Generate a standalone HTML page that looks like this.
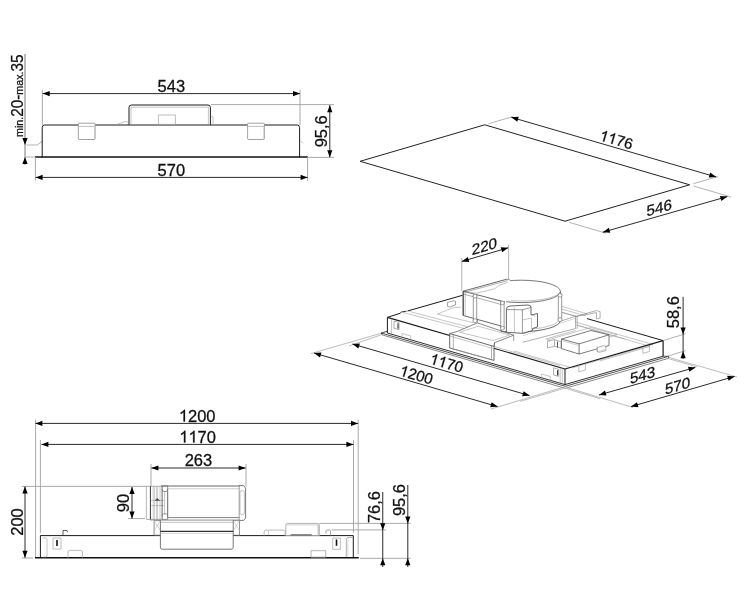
<!DOCTYPE html>
<html><head><meta charset="utf-8"><style>
html,body{margin:0;padding:0;background:#fff;}
svg{display:block;filter:grayscale(1);}
text{font-family:"Liberation Sans",sans-serif;fill:#111;}
</style></head><body>
<svg width="750" height="600" viewBox="0 0 750 600">
<rect width="750" height="600" fill="#fff"/>
<line x1="25.00" y1="54.00" x2="25.00" y2="165.00" stroke="#7a7a7a" stroke-width="1.0" />
<polygon points="25.00,145.00 22.40,138.00 27.60,138.00" fill="#000"/>
<polygon points="25.00,157.00 27.60,164.00 22.40,164.00" fill="#000"/>
<text x="23.2" y="137" font-size="16.5" stroke="#111" stroke-width="0.28" transform="rotate(-90 23.2 137)" textLength="82.5" lengthAdjust="spacingAndGlyphs"><tspan font-size="11.5">min.</tspan>20-<tspan font-size="11.5">max.</tspan>35</text>
<path d="M27,145 L37,145 L42,141.5" stroke="#a0a0a0" stroke-width="0.8" fill="none" stroke-linejoin="round" stroke-linecap="round"/>
<line x1="26.00" y1="157.00" x2="35.00" y2="157.00" stroke="#a0a0a0" stroke-width="0.8" />
<line x1="42.40" y1="89.80" x2="42.40" y2="125.00" stroke="#a0a0a0" stroke-width="0.9" />
<line x1="300.00" y1="89.80" x2="300.00" y2="125.00" stroke="#a0a0a0" stroke-width="0.9" />
<line x1="42.70" y1="93.60" x2="300.00" y2="93.60" stroke="#2a2a2a" stroke-width="1.0" />
<polygon points="42.70,93.60 49.70,91.00 49.70,96.20" fill="#000"/>
<polygon points="300.00,93.60 293.00,96.20 293.00,91.00" fill="#000"/>
<g><text x="157.54" y="91.90" font-size="16.5" stroke="#111" stroke-width="0.28">543</text></g>
<path d="M42.2,157 L42.2,127.5 Q42.2,125 44.7,125 L297.2,125 Q299.6,125 299.6,127.5 L299.6,157" stroke="#1a1a1a" stroke-width="1.0" fill="none" stroke-linejoin="round" stroke-linecap="round"/>
<line x1="35.00" y1="157.00" x2="307.80" y2="157.00" stroke="#111" stroke-width="1.5" />
<line x1="35.40" y1="157.00" x2="35.40" y2="180.50" stroke="#a0a0a0" stroke-width="0.9" />
<line x1="307.60" y1="157.00" x2="307.60" y2="181.00" stroke="#a0a0a0" stroke-width="0.9" />
<line x1="35.60" y1="177.40" x2="307.60" y2="177.40" stroke="#2a2a2a" stroke-width="1.0" />
<polygon points="35.60,177.40 42.60,174.80 42.60,180.00" fill="#000"/>
<polygon points="307.60,177.40 300.60,180.00 300.60,174.80" fill="#000"/>
<g><text x="157.54" y="176.20" font-size="16.5" stroke="#111" stroke-width="0.28">570</text></g>
<rect x="78.3" y="123.2" width="16.8" height="16.3" rx="0.8" fill="#fff" stroke="#8a8a8a" stroke-width="0.8"/>
<line x1="78.70" y1="126.40" x2="94.70" y2="126.40" stroke="#a5a5a5" stroke-width="0.7" />
<line x1="94.50" y1="127.00" x2="94.50" y2="139.00" stroke="#c8c8c8" stroke-width="0.8" />
<rect x="247.6" y="123.2" width="16.8" height="16.3" rx="0.8" fill="#fff" stroke="#8a8a8a" stroke-width="0.8"/>
<line x1="248.00" y1="126.40" x2="264.00" y2="126.40" stroke="#a5a5a5" stroke-width="0.7" />
<line x1="263.80" y1="127.00" x2="263.80" y2="139.00" stroke="#c8c8c8" stroke-width="0.8" />
<path d="M129,124.4 L129,107.5 Q129,105 131.5,105 L208,105 Q210.4,105 210.4,107.5 L210.4,124.4" stroke="#1a1a1a" stroke-width="1.0" fill="none" stroke-linejoin="round" stroke-linecap="round"/>
<line x1="131.00" y1="107.20" x2="208.40" y2="107.20" stroke="#a0a0a0" stroke-width="0.6" />
<line x1="131.00" y1="107.00" x2="131.00" y2="124.40" stroke="#a0a0a0" stroke-width="0.6" />
<line x1="208.40" y1="107.00" x2="208.40" y2="124.40" stroke="#a0a0a0" stroke-width="0.6" />
<path d="M158.40,115.00 L175.40,115.00 L175.40,124.40 L158.40,124.40 Z" stroke="#a0a0a0" stroke-width="0.7" fill="none" stroke-linejoin="round"/>
<path d="M211,116 L213,117 L213,124" stroke="#a0a0a0" stroke-width="0.6" fill="none" stroke-linejoin="round" stroke-linecap="round"/>
<path d="M117,124.5 L122,122.5 L126,121.5 L128,122" stroke="#a0a0a0" stroke-width="0.6" fill="none" stroke-linejoin="round" stroke-linecap="round"/>
<line x1="211.00" y1="104.60" x2="334.00" y2="104.60" stroke="#a0a0a0" stroke-width="0.9" />
<line x1="308.00" y1="157.40" x2="334.00" y2="157.40" stroke="#a0a0a0" stroke-width="0.9" />
<line x1="329.80" y1="105.20" x2="329.80" y2="157.20" stroke="#2a2a2a" stroke-width="1.0" />
<polygon points="329.80,105.20 332.40,112.20 327.20,112.20" fill="#000"/>
<polygon points="329.80,157.20 327.20,150.20 332.40,150.20" fill="#000"/>
<g transform="rotate(-90.00 326.60 131.30)"><text x="310.54" y="131.30" font-size="16.5" stroke="#111" stroke-width="0.28">95,6</text></g>
<path d="M300.5,141 L303,143" stroke="#a0a0a0" stroke-width="0.6" fill="none" stroke-linejoin="round" stroke-linecap="round"/>
<path d="M360.10,161.30 L484.70,124.80 L689.60,184.80 L565.00,221.20 Z" stroke="#222" stroke-width="1.0" fill="none" stroke-linejoin="round"/>
<line x1="488.50" y1="123.70" x2="513.00" y2="116.60" stroke="#a0a0a0" stroke-width="0.8" />
<line x1="693.40" y1="183.70" x2="718.00" y2="176.60" stroke="#a0a0a0" stroke-width="0.8" />
<line x1="511.30" y1="117.30" x2="716.20" y2="177.00" stroke="#2a2a2a" stroke-width="1.0" />
<polygon points="511.30,117.30 518.75,116.76 517.29,121.75" fill="#000"/>
<polygon points="716.20,177.00 708.75,177.54 710.21,172.55" fill="#000"/>
<line x1="693.50" y1="186.00" x2="731.00" y2="197.00" stroke="#a0a0a0" stroke-width="0.8" />
<line x1="569.00" y1="222.30" x2="606.00" y2="233.20" stroke="#a0a0a0" stroke-width="0.8" />
<line x1="602.80" y1="232.20" x2="727.40" y2="196.60" stroke="#2a2a2a" stroke-width="1.0" />
<polygon points="602.80,232.20 608.82,227.78 610.24,232.78" fill="#000"/>
<polygon points="727.40,196.60 721.38,201.02 719.96,196.02" fill="#000"/>
<g transform="rotate(16.24 615.00 144.80)"><path d="M763,0 L583,0 L583,1147 C540,1106 483,1064 413,1023 C343,982 280,952 223,931 L223,1105 C323,1152 411,1209 486,1276 C561,1343 614,1409 645,1466 L763,1466 Z" transform="translate(598.09 144.80) scale(0.00742 -0.00742)" fill="#111" stroke="#111" stroke-width="37.7"/><path d="M763,0 L583,0 L583,1147 C540,1106 483,1064 413,1023 C343,982 280,952 223,931 L223,1105 C323,1152 411,1209 486,1276 C561,1343 614,1409 645,1466 L763,1466 Z" transform="translate(606.55 144.80) scale(0.00742 -0.00742)" fill="#111" stroke="#111" stroke-width="37.7"/><text x="615.00" y="144.80" font-size="15.2" stroke="#111" stroke-width="0.28">76</text></g>
<g transform="translate(659.30 213.00) skewY(-15.95) translate(-659.30 -213.00)"><text x="646.62" y="213.00" font-size="15.2" stroke="#111" stroke-width="0.28">546</text></g>
<line x1="381.20" y1="333.00" x2="565.30" y2="386.30" stroke="#333" stroke-width="0.85" />
<line x1="382.20" y1="334.90" x2="565.30" y2="388.30" stroke="#555" stroke-width="0.7" />
<line x1="565.30" y1="386.30" x2="668.60" y2="356.30" stroke="#333" stroke-width="0.85" />
<line x1="565.30" y1="388.30" x2="668.60" y2="358.30" stroke="#555" stroke-width="0.7" />
<line x1="381.20" y1="333.00" x2="382.20" y2="334.90" stroke="#1a1a1a" stroke-width="0.8" />
<line x1="381.20" y1="333.00" x2="387.40" y2="331.30" stroke="#1a1a1a" stroke-width="0.8" />
<line x1="668.60" y1="356.30" x2="668.60" y2="358.30" stroke="#1a1a1a" stroke-width="0.8" />
<line x1="663.10" y1="356.20" x2="668.60" y2="356.30" stroke="#1a1a1a" stroke-width="0.7" />
<path d="M387.40,317.40 L565.00,369.00 L663.10,340.60 L485.50,289.00 Z" fill="#fff" stroke="none"/>
<path d="M387.40,317.40 L565.00,369.00 L565.00,384.60 L387.40,333.00 Z" fill="#fff" stroke="none"/>
<path d="M565.00,369.00 L663.10,340.60 L663.10,356.20 L565.00,384.60 Z" fill="#fff" stroke="none"/>
<line x1="403.20" y1="312.50" x2="474.00" y2="331.10" stroke="#a0a0a0" stroke-width="0.6" />
<line x1="409.60" y1="311.50" x2="474.00" y2="328.50" stroke="#a0a0a0" stroke-width="0.6" />
<line x1="437.30" y1="314.00" x2="473.30" y2="322.70" stroke="#a0a0a0" stroke-width="0.6" />
<line x1="437.30" y1="314.00" x2="453.30" y2="307.70" stroke="#a0a0a0" stroke-width="0.6" />
<line x1="453.30" y1="307.70" x2="461.00" y2="307.20" stroke="#a0a0a0" stroke-width="0.6" />
<path d="M447.50,306.50 L447.50,302.50 L453.50,300.80 L455.50,301.20 L455.50,305.00 L449.50,307.00 L447.50,306.50" stroke="#7a7a7a" stroke-width="0.7" fill="#fff" stroke-linejoin="round"/>
<line x1="576.70" y1="322.40" x2="653.00" y2="344.50" stroke="#a0a0a0" stroke-width="0.6" />
<line x1="576.70" y1="325.00" x2="650.00" y2="346.40" stroke="#a0a0a0" stroke-width="0.6" />
<line x1="653.00" y1="344.50" x2="572.00" y2="368.00" stroke="#a0a0a0" stroke-width="0.6" />
<line x1="650.00" y1="346.40" x2="600.00" y2="360.90" stroke="#a0a0a0" stroke-width="0.6" />
<line x1="514.00" y1="351.00" x2="570.00" y2="367.30" stroke="#a0a0a0" stroke-width="0.6" />
<line x1="494.00" y1="346.50" x2="560.00" y2="365.70" stroke="#a0a0a0" stroke-width="0.6" />
<line x1="561.70" y1="306.40" x2="587.30" y2="313.90" stroke="#a0a0a0" stroke-width="0.6" />
<line x1="561.70" y1="309.00" x2="586.30" y2="316.00" stroke="#a0a0a0" stroke-width="0.6" />
<path d="M575.60,323.00 L575.60,316.50 L596.40,310.60 L600.10,311.60 L600.10,318.00 L596.40,319.00 L596.40,312.60" stroke="#7a7a7a" stroke-width="0.6" fill="none" stroke-linejoin="round"/>
<line x1="575.60" y1="316.50" x2="596.40" y2="312.60" stroke="#7a7a7a" stroke-width="0.6" />
<line x1="575.60" y1="323.00" x2="545.00" y2="331.80" stroke="#a0a0a0" stroke-width="0.6" />
<line x1="575.60" y1="330.40" x2="545.00" y2="339.20" stroke="#a0a0a0" stroke-width="0.6" />
<line x1="577.00" y1="325.20" x2="625.00" y2="339.10" stroke="#a0a0a0" stroke-width="0.6" />
<path d="M547.00,340.00 L591.00,327.50 L617.00,334.80 L573.00,347.50 L547.00,340.00" stroke="#a0a0a0" stroke-width="0.6" fill="none" stroke-linejoin="round"/>
<path d="M561.50,339.10 L590.90,330.50 L609.00,334.80 L609.00,345.50 L579.10,354.00 L561.50,348.70 Z" fill="#fff" stroke="none"/>
<path d="M561.50,339.10 L590.90,330.50 L609.00,334.80 L579.10,343.90 L561.50,339.10" stroke="#444" stroke-width="0.7" fill="none" stroke-linejoin="round"/>
<path d="M561.50,339.10 L561.50,348.70 L579.10,354.00 L609.00,345.50 L609.00,334.80" stroke="#444" stroke-width="0.7" fill="none" stroke-linejoin="round"/>
<line x1="579.10" y1="343.90" x2="579.10" y2="354.00" stroke="#444" stroke-width="0.7" />
<line x1="562.50" y1="340.80" x2="578.50" y2="345.50" stroke="#a0a0a0" stroke-width="0.5" />
<path d="M597.30,347.50 L603.50,345.70 L605.80,346.30 L605.80,350.50 L599.60,352.30 L597.30,351.70 L597.30,347.50" stroke="#7a7a7a" stroke-width="0.6" fill="#fff" stroke-linejoin="round"/>
<path d="M547.50,341.50 L554.00,339.60 L561.00,341.60 L561.00,348.10 L554.50,346.20 L547.50,348.00 L547.50,341.50" stroke="#7a7a7a" stroke-width="0.6" fill="#fff" stroke-linejoin="round"/>
<line x1="554.50" y1="339.80" x2="554.50" y2="346.20" stroke="#7a7a7a" stroke-width="0.6" />
<line x1="557.50" y1="341.50" x2="557.50" y2="347.50" stroke="#333" stroke-width="0.8" />
<path d="M597.00,346.00 L597.00,351.80 L605.60,349.40" stroke="#a0a0a0" stroke-width="0.5" fill="none" stroke-linejoin="round"/>
<line x1="387.40" y1="317.40" x2="565.00" y2="369.00" stroke="#1a1a1a" stroke-width="1.1" />
<line x1="565.00" y1="369.00" x2="663.10" y2="340.60" stroke="#1a1a1a" stroke-width="1.1" />
<line x1="387.40" y1="317.40" x2="387.40" y2="333.00" stroke="#1a1a1a" stroke-width="1.0" />
<line x1="387.40" y1="333.00" x2="565.00" y2="384.60" stroke="#1a1a1a" stroke-width="0.9" />
<line x1="565.00" y1="369.00" x2="565.00" y2="384.60" stroke="#1a1a1a" stroke-width="1.0" />
<line x1="565.00" y1="384.60" x2="663.10" y2="356.20" stroke="#1a1a1a" stroke-width="0.9" />
<line x1="663.10" y1="340.60" x2="663.10" y2="356.20" stroke="#1a1a1a" stroke-width="1.2" />
<line x1="387.40" y1="317.40" x2="400.00" y2="313.30" stroke="#1a1a1a" stroke-width="1.0" />
<line x1="400.00" y1="313.30" x2="401.50" y2="312.00" stroke="#1a1a1a" stroke-width="0.9" />
<line x1="401.50" y1="312.00" x2="406.50" y2="311.20" stroke="#1a1a1a" stroke-width="0.9" />
<line x1="407.50" y1="311.00" x2="462.50" y2="295.30" stroke="#1a1a1a" stroke-width="1.0" />
<line x1="587.00" y1="318.60" x2="663.10" y2="340.60" stroke="#1a1a1a" stroke-width="1.0" />
<line x1="391.50" y1="318.60" x2="391.50" y2="334.10" stroke="#a0a0a0" stroke-width="0.6" />
<line x1="560.20" y1="368.00" x2="560.20" y2="383.20" stroke="#a0a0a0" stroke-width="0.6" />
<line x1="562.30" y1="368.50" x2="562.30" y2="383.80" stroke="#a0a0a0" stroke-width="0.6" />
<path d="M394.00,321.00 L399.00,322.45 L399.00,329.60 L394.00,328.20 L394.00,321.00" stroke="#7a7a7a" stroke-width="0.6" fill="#fff" stroke-linejoin="round"/>
<line x1="398.00" y1="323.40" x2="398.00" y2="328.60" stroke="#222" stroke-width="1.0" />
<path d="M553.60,367.80 L558.60,369.25 L558.60,376.40 L553.60,375.00 L553.60,367.80" stroke="#7a7a7a" stroke-width="0.6" fill="#fff" stroke-linejoin="round"/>
<line x1="557.60" y1="370.20" x2="557.60" y2="375.40" stroke="#222" stroke-width="1.0" />
<path d="M402.00,338.40 L402.00,333.40 L410.70,335.90 L410.70,340.90" stroke="#a0a0a0" stroke-width="0.6" fill="none" stroke-linejoin="round"/>
<path d="M541.60,379.00 L541.60,374.00 L550.30,376.50 L550.30,381.50" stroke="#a0a0a0" stroke-width="0.6" fill="none" stroke-linejoin="round"/>
<path d="M578.80,365.40 L578.80,371.90 L585.40,370.00 L585.40,363.50" stroke="#a0a0a0" stroke-width="0.7" fill="none" stroke-linejoin="round"/>
<path d="M642.80,346.90 L642.80,353.40 L649.40,351.50 L649.40,345.00" stroke="#a0a0a0" stroke-width="0.7" fill="none" stroke-linejoin="round"/>
<path d="M449.70,333.60 L457.10,331.50 L477.40,322.90 L513.70,335.20 L494.50,342.70 L494.00,346.40 L494.00,360.40 L449.70,348.00 Z" fill="#fff" stroke="none"/>
<path d="M449.70,333.60 L494.00,346.40 L494.00,360.40 L449.70,348.00 L449.70,333.60" stroke="#444" stroke-width="0.8" fill="none" stroke-linejoin="round"/>
<line x1="453.30" y1="334.60" x2="453.30" y2="349.00" stroke="#7a7a7a" stroke-width="0.6" />
<line x1="491.50" y1="345.70" x2="491.50" y2="359.70" stroke="#7a7a7a" stroke-width="0.6" />
<line x1="449.70" y1="336.00" x2="494.00" y2="348.80" stroke="#a0a0a0" stroke-width="0.6" />
<path d="M449.70,333.60 L457.10,331.50 L477.40,322.90 L513.70,335.20 L494.50,342.70 L494.00,346.40" stroke="#555" stroke-width="0.7" fill="none" stroke-linejoin="round"/>
<path d="M459.50,332.20 L478.50,326.20 L509.50,335.10 L493.00,340.50 L459.50,332.20" stroke="#a0a0a0" stroke-width="0.6" fill="none" stroke-linejoin="round"/>
<line x1="494.50" y1="342.70" x2="494.50" y2="346.40" stroke="#555" stroke-width="0.6" />
<line x1="513.70" y1="335.20" x2="513.70" y2="341.00" stroke="#555" stroke-width="0.6" />
<line x1="477.40" y1="322.90" x2="477.40" y2="319.50" stroke="#666" stroke-width="0.6" />
<line x1="455.50" y1="349.50" x2="490.00" y2="359.30" stroke="#a0a0a0" stroke-width="0.6" />
<path d="M522.80,333.80 L575.60,316.20 L575.60,328.50 L522.80,342.30" stroke="#777" stroke-width="0.6" fill="#fff" stroke-linejoin="round"/>
<line x1="577.20" y1="316.60" x2="577.20" y2="328.90" stroke="#888" stroke-width="0.6" />
<line x1="522.80" y1="335.80" x2="575.60" y2="318.20" stroke="#aaa" stroke-width="0.5" />
<line x1="562.30" y1="312.50" x2="575.60" y2="316.20" stroke="#888" stroke-width="0.6" />
<line x1="577.20" y1="316.60" x2="562.00" y2="312.30" stroke="#888" stroke-width="0.5" />
<path d="M560.40,291.40 L560.40,320.40 A39.2,11.2 0 0 1 521.20,331.60 L501.20,331.60 L501.20,291.40 Z" stroke="#444" stroke-width="0.8" fill="#fff"/>
<path d="M559.60,318.60 A39.2,11.2 0 0 1 531.20,329.20" stroke="#999" stroke-width="0.6" fill="none"/>
<path d="M463.20,291.20 L502.50,302.20 L502.50,326.40 L463.20,315.50 Z" fill="#fff" stroke="none"/>
<path d="M463.20,291.20 L463.20,315.50 L502.50,326.40" stroke="#444" stroke-width="0.8" fill="none" stroke-linejoin="round"/>
<line x1="465.20" y1="292.30" x2="465.20" y2="316.00" stroke="#a0a0a0" stroke-width="0.6" />
<line x1="464.00" y1="294.20" x2="502.50" y2="304.90" stroke="#777" stroke-width="0.6" />
<ellipse cx="521.2" cy="291.4" rx="39.2" ry="11.2" stroke="#555" stroke-width="0.8" fill="#fff"/>
<path d="M511.20,300.70 A39.2,10.0 0 0 0 559.80,292.60" stroke="#999" stroke-width="0.6" fill="none"/>
<path d="M463.2,291.2 L506.8,279.2 Q509.5,278.8 510.8,281.0 L506.0,302.0 L502.5,302.2 Z" stroke="none" fill="#fff"/>
<line x1="463.20" y1="291.20" x2="506.80" y2="279.20" stroke="#444" stroke-width="0.8" />
<path d="M506.8,279.2 Q509.5,278.8 510.8,281.0" stroke="#666" stroke-width="0.7" fill="none"/>
<line x1="464.50" y1="292.30" x2="507.50" y2="280.60" stroke="#777" stroke-width="0.6" />
<line x1="463.20" y1="291.20" x2="505.00" y2="302.00" stroke="#444" stroke-width="0.8" />
<path d="M466.0,292.0 L476.4,293.2 L494.8,288.8 Q497.5,286.0 499.6,285.2 L507.5,282.3" stroke="#999" stroke-width="0.6" fill="none"/>
<path d="M473.30,294.40 L476.70,294.40 L476.70,321.30 L473.30,321.30 Z" fill="#fff" stroke="none"/>
<line x1="473.30" y1="294.40" x2="473.30" y2="321.30" stroke="#555" stroke-width="0.6" />
<line x1="476.70" y1="294.40" x2="476.70" y2="321.30" stroke="#555" stroke-width="0.6" />
<circle cx="475.00" cy="296.20" r="1.9" stroke="#666" stroke-width="0.6" fill="#fff"/>
<circle cx="475.00" cy="320.70" r="2.0" stroke="#666" stroke-width="0.6" fill="#fff"/>
<path d="M500.70,301.20 L504.10,301.20 L504.10,328.80 L500.70,328.80 Z" fill="#fff" stroke="none"/>
<line x1="500.70" y1="301.20" x2="500.70" y2="328.80" stroke="#555" stroke-width="0.6" />
<line x1="504.10" y1="301.20" x2="504.10" y2="328.80" stroke="#555" stroke-width="0.6" />
<circle cx="502.40" cy="303.00" r="1.9" stroke="#666" stroke-width="0.6" fill="#fff"/>
<circle cx="502.40" cy="328.20" r="2.0" stroke="#666" stroke-width="0.6" fill="#fff"/>
<path d="M558.30,293.50 L561.70,293.50 L561.70,320.30 L558.30,320.30 Z" fill="#fff" stroke="none"/>
<line x1="558.30" y1="293.50" x2="558.30" y2="320.30" stroke="#555" stroke-width="0.6" />
<line x1="561.70" y1="293.50" x2="561.70" y2="320.30" stroke="#555" stroke-width="0.6" />
<circle cx="560.00" cy="295.30" r="1.9" stroke="#666" stroke-width="0.6" fill="#fff"/>
<circle cx="560.00" cy="319.70" r="2.0" stroke="#666" stroke-width="0.6" fill="#fff"/>
<line x1="463.20" y1="291.20" x2="463.20" y2="315.50" stroke="#333" stroke-width="0.8" />
<path d="M506.4,332.3 L506.4,309.5 Q506.4,306.2 510.0,306.0 L528.0,305.0 Q531.0,305.0 531.0,307.5 L531.0,315.0 L537.5,313.5 L537.5,327.0 L532.5,328.5 L532.5,330.5 L522.4,333.3 Z" stroke="#444" stroke-width="0.8" fill="#fff"/>
<line x1="514.40" y1="307.50" x2="514.40" y2="332.80" stroke="#a0a0a0" stroke-width="0.6" />
<line x1="522.40" y1="309.50" x2="522.40" y2="333.30" stroke="#555" stroke-width="0.6" />
<line x1="506.40" y1="309.50" x2="522.40" y2="309.80" stroke="#555" stroke-width="0.6" />
<line x1="522.40" y1="309.80" x2="531.00" y2="307.50" stroke="#555" stroke-width="0.6" />
<line x1="531.00" y1="315.00" x2="535.00" y2="316.00" stroke="#a0a0a0" stroke-width="0.6" />
<line x1="522.40" y1="320.00" x2="531.50" y2="318.00" stroke="#a0a0a0" stroke-width="0.6" />
<line x1="531.50" y1="318.00" x2="531.50" y2="329.00" stroke="#a0a0a0" stroke-width="0.6" />
<line x1="461.80" y1="258.00" x2="461.80" y2="291.00" stroke="#a0a0a0" stroke-width="0.8" />
<line x1="508.60" y1="244.60" x2="508.60" y2="280.00" stroke="#a0a0a0" stroke-width="0.8" />
<line x1="461.80" y1="261.40" x2="508.20" y2="247.80" stroke="#2a2a2a" stroke-width="1.0" />
<polygon points="461.80,261.40 467.79,256.94 469.25,261.93" fill="#000"/>
<polygon points="508.20,247.80 502.21,252.26 500.75,247.27" fill="#000"/>
<g transform="translate(484.40 251.60) skewY(-16.34) translate(-484.40 -251.60)"><text x="471.72" y="251.60" font-size="15.2" stroke="#111" stroke-width="0.28">220</text></g>
<line x1="311.00" y1="353.60" x2="381.30" y2="333.20" stroke="#a0a0a0" stroke-width="0.7" />
<line x1="349.00" y1="345.90" x2="381.80" y2="334.60" stroke="#a0a0a0" stroke-width="0.7" />
<line x1="491.00" y1="409.00" x2="563.50" y2="387.20" stroke="#a0a0a0" stroke-width="0.7" />
<line x1="520.00" y1="401.40" x2="563.50" y2="388.50" stroke="#a0a0a0" stroke-width="0.7" />
<line x1="314.00" y1="353.00" x2="497.60" y2="406.60" stroke="#2a2a2a" stroke-width="1.0" />
<polygon points="314.00,353.00 321.45,352.47 319.99,357.46" fill="#000"/>
<polygon points="497.60,406.60 490.15,407.13 491.61,402.14" fill="#000"/>
<line x1="352.40" y1="344.00" x2="529.60" y2="395.60" stroke="#2a2a2a" stroke-width="1.0" />
<polygon points="352.40,344.00 359.85,343.46 358.39,348.45" fill="#000"/>
<polygon points="529.60,395.60 522.15,396.14 523.61,391.15" fill="#000"/>
<g transform="rotate(16.30 445.20 368.20)"><path d="M763,0 L583,0 L583,1147 C540,1106 483,1064 413,1023 C343,982 280,952 223,931 L223,1105 C323,1152 411,1209 486,1276 C561,1343 614,1409 645,1466 L763,1466 Z" transform="translate(428.29 368.20) scale(0.00742 -0.00742)" fill="#111" stroke="#111" stroke-width="37.7"/><path d="M763,0 L583,0 L583,1147 C540,1106 483,1064 413,1023 C343,982 280,952 223,931 L223,1105 C323,1152 411,1209 486,1276 C561,1343 614,1409 645,1466 L763,1466 Z" transform="translate(436.75 368.20) scale(0.00742 -0.00742)" fill="#111" stroke="#111" stroke-width="37.7"/><text x="445.20" y="368.20" font-size="15.2" stroke="#111" stroke-width="0.28">70</text></g>
<g transform="rotate(16.30 415.00 380.00)"><path d="M763,0 L583,0 L583,1147 C540,1106 483,1064 413,1023 C343,982 280,952 223,931 L223,1105 C323,1152 411,1209 486,1276 C561,1343 614,1409 645,1466 L763,1466 Z" transform="translate(398.09 380.00) scale(0.00742 -0.00742)" fill="#111" stroke="#111" stroke-width="37.7"/><text x="406.55" y="380.00" font-size="15.2" stroke="#111" stroke-width="0.28">200</text></g>
<line x1="567.00" y1="387.50" x2="633.00" y2="407.50" stroke="#a0a0a0" stroke-width="0.7" />
<line x1="567.00" y1="388.80" x2="600.00" y2="398.70" stroke="#a0a0a0" stroke-width="0.7" />
<line x1="668.80" y1="357.40" x2="737.00" y2="377.00" stroke="#a0a0a0" stroke-width="0.7" />
<line x1="668.80" y1="358.70" x2="697.00" y2="366.90" stroke="#a0a0a0" stroke-width="0.7" />
<line x1="599.00" y1="395.00" x2="695.40" y2="367.40" stroke="#2a2a2a" stroke-width="1.0" />
<polygon points="599.00,395.00 605.01,390.57 606.45,395.57" fill="#000"/>
<polygon points="695.40,367.40 689.39,371.83 687.95,366.83" fill="#000"/>
<line x1="631.00" y1="406.60" x2="734.60" y2="376.40" stroke="#2a2a2a" stroke-width="1.0" />
<polygon points="631.00,406.60 636.99,402.14 638.45,407.14" fill="#000"/>
<polygon points="734.60,376.40 728.61,380.86 727.15,375.86" fill="#000"/>
<g transform="translate(642.60 380.30) skewY(-16.00) translate(-642.60 -380.30)"><text x="629.92" y="380.30" font-size="15.2" stroke="#111" stroke-width="0.28">543</text></g>
<g transform="translate(677.60 391.00) skewY(-16.00) translate(-677.60 -391.00)"><text x="664.92" y="391.00" font-size="15.2" stroke="#111" stroke-width="0.28">570</text></g>
<line x1="663.10" y1="340.60" x2="685.60" y2="333.75" stroke="#a0a0a0" stroke-width="0.8" />
<line x1="667.50" y1="356.25" x2="685.60" y2="350.60" stroke="#a0a0a0" stroke-width="0.8" />
<line x1="683.10" y1="296.90" x2="683.10" y2="358.75" stroke="#2a2a2a" stroke-width="1.0" />
<polygon points="683.10,334.40 680.50,327.40 685.70,327.40" fill="#000"/>
<polygon points="683.10,351.25 685.70,358.25 680.50,358.25" fill="#000"/>
<g transform="rotate(-90.00 679.50 312.20)"><text x="663.44" y="312.20" font-size="16.5" stroke="#111" stroke-width="0.28">58,6</text></g>
<line x1="35.60" y1="419.50" x2="35.60" y2="557.40" stroke="#a0a0a0" stroke-width="0.9" />
<line x1="358.20" y1="419.50" x2="358.20" y2="554.00" stroke="#a0a0a0" stroke-width="0.9" />
<line x1="35.40" y1="423.40" x2="358.00" y2="423.40" stroke="#2a2a2a" stroke-width="1.0" />
<polygon points="35.40,423.40 42.40,420.80 42.40,426.00" fill="#000"/>
<polygon points="358.00,423.40 351.00,426.00 351.00,420.80" fill="#000"/>
<g><path d="M763,0 L583,0 L583,1147 C540,1106 483,1064 413,1023 C343,982 280,952 223,931 L223,1105 C323,1152 411,1209 486,1276 C561,1343 614,1409 645,1466 L763,1466 Z" transform="translate(178.85 421.50) scale(0.00806 -0.00806)" fill="#111" stroke="#111" stroke-width="34.8"/><text x="188.02" y="421.50" font-size="16.5" stroke="#111" stroke-width="0.28">200</text></g>
<line x1="40.40" y1="440.00" x2="40.40" y2="533.00" stroke="#a0a0a0" stroke-width="0.9" />
<line x1="353.50" y1="440.00" x2="353.50" y2="532.50" stroke="#a0a0a0" stroke-width="0.9" />
<line x1="41.40" y1="444.40" x2="353.40" y2="444.40" stroke="#2a2a2a" stroke-width="1.0" />
<polygon points="41.40,444.40 48.40,441.80 48.40,447.00" fill="#000"/>
<polygon points="353.40,444.40 346.40,447.00 346.40,441.80" fill="#000"/>
<g><path d="M763,0 L583,0 L583,1147 C540,1106 483,1064 413,1023 C343,982 280,952 223,931 L223,1105 C323,1152 411,1209 486,1276 C561,1343 614,1409 645,1466 L763,1466 Z" transform="translate(179.25 442.50) scale(0.00806 -0.00806)" fill="#111" stroke="#111" stroke-width="34.8"/><path d="M763,0 L583,0 L583,1147 C540,1106 483,1064 413,1023 C343,982 280,952 223,931 L223,1105 C323,1152 411,1209 486,1276 C561,1343 614,1409 645,1466 L763,1466 Z" transform="translate(188.42 442.50) scale(0.00806 -0.00806)" fill="#111" stroke="#111" stroke-width="34.8"/><text x="197.60" y="442.50" font-size="16.5" stroke="#111" stroke-width="0.28">70</text></g>
<line x1="151.00" y1="464.00" x2="151.00" y2="486.00" stroke="#a0a0a0" stroke-width="0.9" />
<line x1="246.00" y1="464.00" x2="246.00" y2="487.00" stroke="#a0a0a0" stroke-width="0.9" />
<line x1="151.40" y1="468.00" x2="245.60" y2="468.00" stroke="#2a2a2a" stroke-width="1.0" />
<polygon points="151.40,468.00 158.40,465.40 158.40,470.60" fill="#000"/>
<polygon points="245.60,468.00 238.60,470.60 238.60,465.40" fill="#000"/>
<g><text x="184.64" y="466.40" font-size="16.5" stroke="#111" stroke-width="0.28">263</text></g>
<line x1="21.60" y1="486.40" x2="147.00" y2="486.40" stroke="#a0a0a0" stroke-width="0.9" />
<line x1="21.60" y1="558.00" x2="33.00" y2="558.00" stroke="#a0a0a0" stroke-width="0.9" />
<line x1="25.00" y1="486.60" x2="25.00" y2="557.80" stroke="#2a2a2a" stroke-width="1.0" />
<polygon points="25.00,486.60 27.60,493.60 22.40,493.60" fill="#000"/>
<polygon points="25.00,557.80 22.40,550.80 27.60,550.80" fill="#000"/>
<g transform="rotate(-90.00 23.00 522.00)"><text x="9.24" y="522.00" font-size="16.5" stroke="#111" stroke-width="0.28">200</text></g>
<line x1="128.00" y1="518.60" x2="145.00" y2="518.60" stroke="#a0a0a0" stroke-width="0.9" />
<line x1="132.00" y1="487.00" x2="132.00" y2="518.60" stroke="#2a2a2a" stroke-width="1.0" />
<polygon points="132.00,487.00 134.60,494.00 129.40,494.00" fill="#000"/>
<polygon points="132.00,518.60 129.40,511.60 134.60,511.60" fill="#000"/>
<g transform="rotate(-90.00 129.00 503.00)"><text x="119.82" y="503.00" font-size="16.5" stroke="#111" stroke-width="0.28">90</text></g>
<path d="M40.4,557.6 L40.4,535.6 L353.3,535.6 L353.3,557.6" stroke="#1a1a1a" stroke-width="1.0" fill="none" stroke-linejoin="round" stroke-linecap="round"/>
<line x1="35.00" y1="557.70" x2="358.70" y2="557.70" stroke="#111" stroke-width="1.5" />
<path d="M63,535 L63,530.5 L67,530.5 L67.5,532" stroke="#1a1a1a" stroke-width="0.7" fill="none" stroke-linejoin="round" stroke-linecap="round"/>
<path d="M53.00,538.00 L61.00,538.00 L61.00,549.00 L53.00,549.00 Z" stroke="#a0a0a0" stroke-width="0.7" fill="none" stroke-linejoin="round"/>
<line x1="57.00" y1="540.00" x2="57.00" y2="546.00" stroke="#111" stroke-width="1.6" />
<path d="M68,557.4 L68,552 Q68,550.4 69.6,550.4 L80.8,550.4 Q82.4,550.4 82.4,552 L82.4,557.4" stroke="#a0a0a0" stroke-width="0.7" fill="none" stroke-linejoin="round" stroke-linecap="round"/>
<path d="M43,538 L45.5,538 Q47,538 47,540 L47,555 Q47,557 45.5,557 L43,557" stroke="#a0a0a0" stroke-width="0.6" fill="none" stroke-linejoin="round" stroke-linecap="round"/>
<rect x="146.4" y="486" width="99.2" height="34" fill="#fff"/>
<line x1="146.40" y1="486.30" x2="146.40" y2="519.40" stroke="#999" stroke-width="0.7" />
<line x1="146.40" y1="486.30" x2="161.00" y2="486.30" stroke="#888" stroke-width="0.7" />
<line x1="146.40" y1="519.40" x2="161.00" y2="519.40" stroke="#888" stroke-width="0.7" />
<line x1="150.40" y1="486.30" x2="150.40" y2="519.40" stroke="#333" stroke-width="1.0" />
<line x1="153.20" y1="486.50" x2="153.20" y2="519.20" stroke="#aaa" stroke-width="0.6" />
<line x1="154.40" y1="486.50" x2="154.40" y2="519.20" stroke="#aaa" stroke-width="0.6" />
<line x1="156.40" y1="486.50" x2="156.40" y2="519.20" stroke="#aaa" stroke-width="0.6" />
<line x1="157.60" y1="486.50" x2="157.60" y2="519.20" stroke="#aaa" stroke-width="0.6" />
<line x1="160.00" y1="486.50" x2="160.00" y2="519.20" stroke="#aaa" stroke-width="0.6" />
<line x1="151.20" y1="500.40" x2="164.00" y2="500.40" stroke="#999" stroke-width="0.6" />
<line x1="151.20" y1="505.60" x2="164.00" y2="505.60" stroke="#999" stroke-width="0.6" />
<path d="M155.3,500.3 L157.3,498.4 L159.3,500.3 Z" stroke="#444" stroke-width="0.6" fill="#444" stroke-linejoin="round" stroke-linecap="round"/>
<line x1="162.10" y1="486.00" x2="162.10" y2="519.60" stroke="#555" stroke-width="0.9" />
<path d="M162.1,485.9 L167.7,485.9 L167.7,490.0 Q167.7,491.5 165.9,491.5 L163.9,491.5 Q162.1,491.5 162.1,490.0" stroke="#666" stroke-width="0.7" fill="none" stroke-linejoin="round" stroke-linecap="round"/>
<path d="M162.1,519.4 L167.7,519.4 L167.7,515.3 Q167.7,513.8 165.9,513.8 L163.9,513.8 Q162.1,513.8 162.1,515.3" stroke="#666" stroke-width="0.7" fill="none" stroke-linejoin="round" stroke-linecap="round"/>
<line x1="164.60" y1="491.50" x2="164.60" y2="513.80" stroke="#999" stroke-width="0.6" />
<line x1="167.70" y1="491.50" x2="167.70" y2="513.80" stroke="#777" stroke-width="0.7" />
<line x1="161.00" y1="486.00" x2="239.40" y2="486.00" stroke="#666" stroke-width="1.1" />
<line x1="167.60" y1="488.80" x2="239.40" y2="488.80" stroke="#aaa" stroke-width="0.6" />
<line x1="167.60" y1="517.60" x2="239.40" y2="517.60" stroke="#777" stroke-width="0.9" />
<line x1="150.00" y1="520.00" x2="239.40" y2="520.00" stroke="#888" stroke-width="0.8" />
<line x1="167.60" y1="488.50" x2="167.60" y2="517.50" stroke="#666" stroke-width="0.7" />
<path d="M239.2,485.6 L243.6,485.6 L245.6,488.2 L245.6,518.2 L243.6,520.4 L239.2,520.4" stroke="#555" stroke-width="0.8" fill="none" stroke-linejoin="round" stroke-linecap="round"/>
<line x1="239.20" y1="485.60" x2="239.20" y2="520.40" stroke="#777" stroke-width="0.7" />
<path d="M240.0,492.0 Q240.0,490.8 241.2,490.8 L243.2,490.8 Q244.4,490.8 244.4,492.0 L244.4,513.2 Q244.4,514.4 243.2,514.4 L241.2,514.4 Q240.0,514.4 240.0,513.2 Z" stroke="#999" stroke-width="0.6" fill="none" stroke-linejoin="round" stroke-linecap="round"/>
<path d="M154.10,520.60 L239.50,520.60 L239.50,535.40 L154.10,535.40 Z" stroke="#777" stroke-width="0.8" fill="#fff" stroke-linejoin="round"/>
<line x1="154.10" y1="535.40" x2="239.50" y2="535.40" stroke="#444" stroke-width="0.9" />
<line x1="154.10" y1="520.60" x2="160.40" y2="530.60" stroke="#aaa" stroke-width="0.5" />
<line x1="154.10" y1="530.60" x2="160.40" y2="520.60" stroke="#aaa" stroke-width="0.5" />
<line x1="233.20" y1="520.60" x2="239.50" y2="530.60" stroke="#aaa" stroke-width="0.5" />
<line x1="233.20" y1="530.60" x2="239.50" y2="520.60" stroke="#aaa" stroke-width="0.5" />
<rect x="160.4" y="520.6" width="72.8" height="28.6" fill="#fff"/>
<path d="M160.4,520.6 L160.4,547.2 Q160.4,549.2 162.4,549.2 L231.2,549.2 Q233.2,549.2 233.2,547.2 L233.2,520.6" stroke="#555" stroke-width="0.8" fill="none" stroke-linejoin="round" stroke-linecap="round"/>
<line x1="160.40" y1="522.30" x2="233.20" y2="522.30" stroke="#999" stroke-width="0.6" />
<line x1="160.40" y1="531.40" x2="233.20" y2="531.40" stroke="#333" stroke-width="1.4" />
<line x1="160.40" y1="533.30" x2="233.20" y2="533.30" stroke="#aaa" stroke-width="0.5" />
<path d="M264.1,535.4 L264.1,532.0 Q264.1,530.1 266.0,530.1 L283.2,530.1 Q285.1,530.1 285.1,532.0 L285.1,535.4" stroke="#a0a0a0" stroke-width="0.7" fill="none" stroke-linejoin="round" stroke-linecap="round"/>
<line x1="268.30" y1="530.60" x2="268.30" y2="535.20" stroke="#a0a0a0" stroke-width="0.6" />
<path d="M285.8,535.4 L285.8,525.4 Q285.8,523.4 287.8,523.4 L317.4,523.4 Q319.4,523.4 319.4,525.4 L319.4,535.4" stroke="#a0a0a0" stroke-width="0.8" fill="#fff" stroke-linejoin="round" stroke-linecap="round"/>
<line x1="286.50" y1="524.90" x2="318.70" y2="524.90" stroke="#a0a0a0" stroke-width="0.5" />
<line x1="318.30" y1="524.50" x2="318.30" y2="535.20" stroke="#c8c8c8" stroke-width="1.6" />
<line x1="290.70" y1="534.80" x2="311.70" y2="534.80" stroke="#333" stroke-width="0.8" />
<path d="M325.9,533.0 L325.9,531.3 Q325.9,530.0 327.2,530.0 L329.3,530.0 Q330.6,530.0 330.6,531.3 L330.6,535.4" stroke="#7a7a7a" stroke-width="0.7" fill="none" stroke-linejoin="round" stroke-linecap="round"/>
<path d="M332.70,538.10 L340.40,538.10 L340.40,549.30 L332.70,549.30 Z" stroke="#a0a0a0" stroke-width="0.7" fill="none" stroke-linejoin="round"/>
<line x1="336.50" y1="539.50" x2="336.50" y2="545.80" stroke="#111" stroke-width="1.6" />
<path d="M346.3,556.6 L346.3,540.0 Q346.3,537.4 349.0,537.4 L352.6,537.4" stroke="#a0a0a0" stroke-width="0.8" fill="none" stroke-linejoin="round" stroke-linecap="round"/>
<line x1="347.80" y1="540.00" x2="347.80" y2="556.50" stroke="#d0d0d0" stroke-width="0.8" />
<path d="M311.00,550.70 L325.70,550.70 L325.70,557.20 L311.00,557.20 Z" stroke="#a0a0a0" stroke-width="0.8" fill="none" stroke-linejoin="round"/>
<line x1="319.40" y1="523.40" x2="410.50" y2="523.40" stroke="#a0a0a0" stroke-width="0.9" />
<line x1="331.60" y1="529.90" x2="386.00" y2="529.90" stroke="#a0a0a0" stroke-width="0.9" />
<line x1="360.00" y1="558.30" x2="410.50" y2="558.30" stroke="#a0a0a0" stroke-width="0.9" />
<line x1="382.75" y1="492.00" x2="382.75" y2="567.00" stroke="#2a2a2a" stroke-width="1.0" />
<polygon points="382.75,530.20 380.15,523.20 385.35,523.20" fill="#000"/>
<polygon points="382.75,558.30 385.35,565.30 380.15,565.30" fill="#000"/>
<g transform="rotate(-90.00 380.20 507.00)"><text x="364.14" y="507.00" font-size="16.5" stroke="#111" stroke-width="0.28">76,6</text></g>
<line x1="407.80" y1="485.00" x2="407.80" y2="567.00" stroke="#2a2a2a" stroke-width="1.0" />
<polygon points="407.80,523.50 405.20,516.50 410.40,516.50" fill="#000"/>
<polygon points="407.80,558.30 410.40,565.30 405.20,565.30" fill="#000"/>
<g transform="rotate(-90.00 404.60 500.00)"><text x="388.54" y="500.00" font-size="16.5" stroke="#111" stroke-width="0.28">95,6</text></g>
</svg>
</body></html>
